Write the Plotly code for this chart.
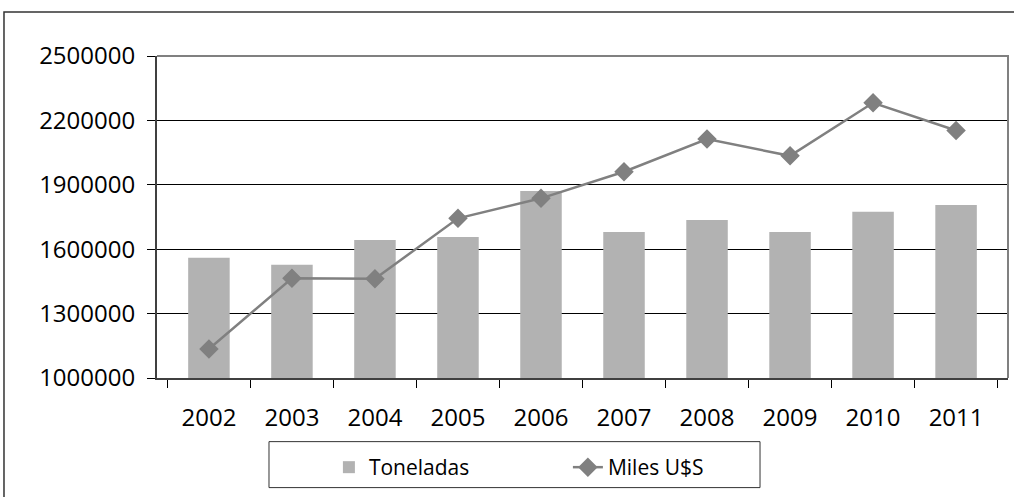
import plotly.graph_objects as go

years = ["2002", "2003", "2004", "2005", "2006", "2007", "2008", "2009", "2010", "2011"]
toneladas = [1560000, 1527000, 1643000, 1657000, 1871000, 1680000, 1736000, 1680000, 1774000, 1806000]
miles_usd = [1135000, 1465000, 1462000, 1744000, 1837000, 1961000, 2113000, 2035000, 2282000, 2153000]
y_ticks = [1000000, 1300000, 1600000, 1900000, 2200000, 2500000]

FONT = "Open Sans"

fig = go.Figure()
fig.add_trace(go.Bar(
    x=years, y=toneladas, name="Toneladas",
    marker=dict(color="#b2b2b2", line=dict(width=0)),
))
fig.add_trace(go.Scatter(
    x=years, y=miles_usd, name="Miles U$S", mode="lines+markers",
    line=dict(color="#808080", width=2.5),
    marker=dict(symbol="diamond", size=15, color="#808080"),
))

fig.update_layout(
    width=1014, height=497,
    margin=dict(l=157, r=6, t=56, b=119),
    paper_bgcolor="white", plot_bgcolor="white",
    font=dict(family=FONT, size=21, color="black"),
    bargap=0.5,
    showlegend=True,
    legend=dict(
        orientation="h", x=0.202, y=-0.278, xanchor="left", yanchor="middle",
        font=dict(family=FONT, size=21, color="black"),
        entrywidth=194, entrywidthmode="pixels",
        bgcolor="rgba(0,0,0,0)", borderwidth=0,
    ),
    xaxis=dict(
        type="category", showgrid=False,
        ticks="outside", ticklen=8, tickcolor="black", tickwidth=1,
        tickson="boundaries",
        showline=True, linecolor="#404040", linewidth=2,
        tickfont=dict(family=FONT, size=24, color="black"),
        ticklabelstandoff=17,
    ),
    yaxis=dict(
        range=[1000000, 2500000], tickvals=y_ticks, tickformat="d",
        showgrid=True, gridcolor="black", gridwidth=1,
        ticks="outside", ticklen=8, tickcolor="black", tickwidth=1,
        showline=True, linecolor="#404040", linewidth=2,
        tickfont=dict(family=FONT, size=24, color="black"),
        ticklabelstandoff=7, zeroline=False,
    ),
    shapes=[
        # plot area border (top/right gray)
        dict(type="path", xref="paper", yref="paper", path="M 0,1 L 1,1 L 1,0",
             line=dict(color="#808080", width=2), layer="above"),
        # outer chart frame
        dict(type="rect", xref="paper", yref="paper", x0=-0.1798, x1=1.2, y0=-1.0, y1=1.1365,
             line=dict(color="#333333", width=1.5)),
        # legend box
        dict(type="rect", xref="paper", yref="paper", x0=0.1316, x1=0.7086, y0=-0.3404, y1=-0.1976,
             line=dict(color="#333333", width=1)),
    ],
)

fig.write_html("out.html", config={"displayModeBar": False},
               post_script="document.body.style.margin='0';")
